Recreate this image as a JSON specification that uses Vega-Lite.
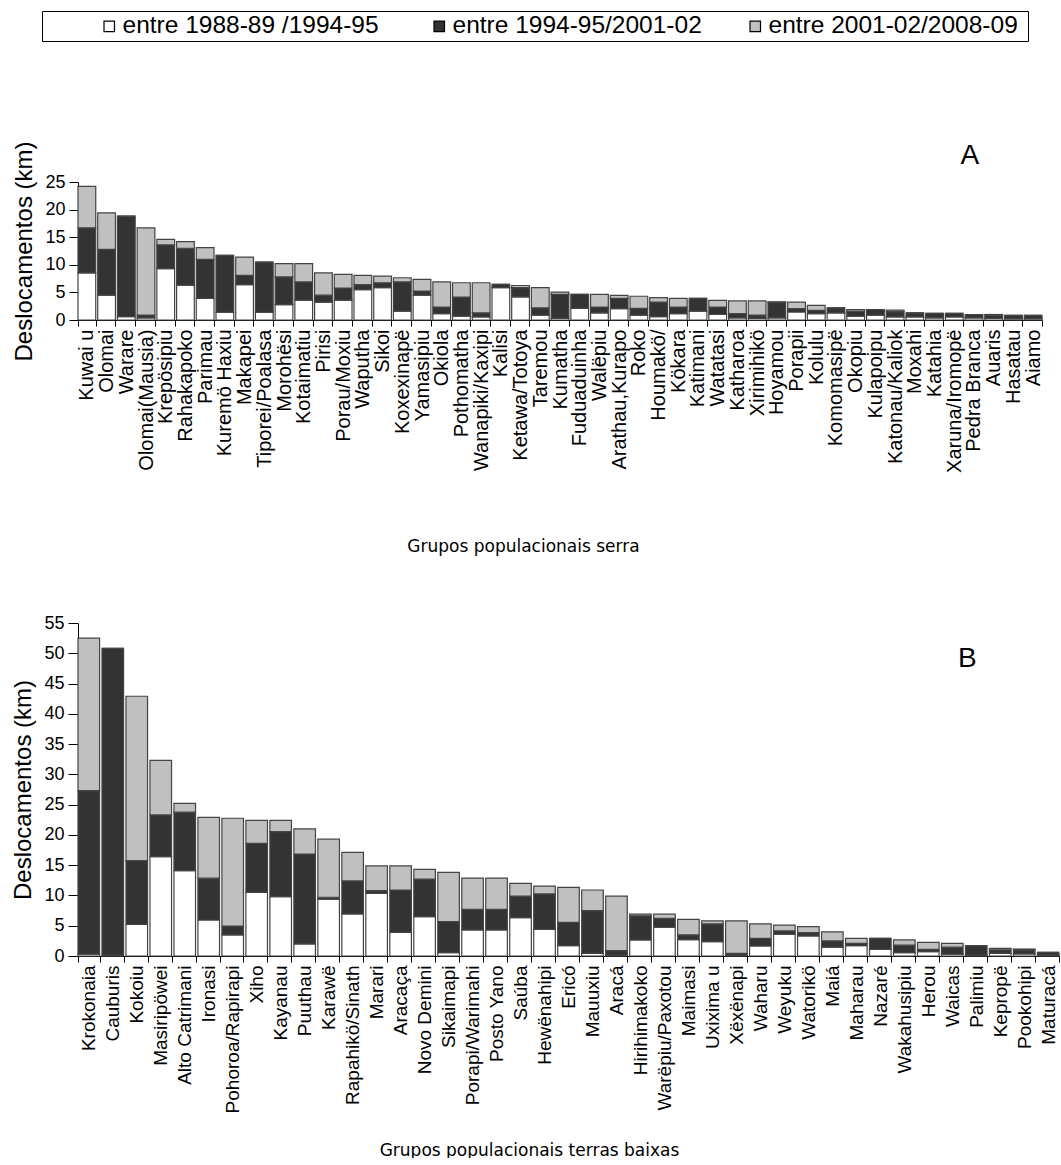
{
  "$schema": "https://vega.github.io/schema/vega-lite/v6.json",
  "padding": {"top": 10, "left": 11, "right": 0, "bottom": 0},
  "background": "white",
  "config": {
    "view": {"stroke": null},
    "font": "Liberation Sans",
    "axis": {"domainColor": "black", "tickColor": "black", "labelColor": "black", "titleColor": "black", "grid": false, "labelFont": "Liberation Sans", "titleFont": "Liberation Sans", "titleFontWeight": "normal"},
    "bar": {"stroke": "#444444", "strokeWidth": 1.2}
  },
  "resolve": {"scale": {"x": "independent", "y": "independent", "color": "shared"}, "legend": {"color": "shared"}},
  "spacing": 60,
  "datasets": {
    "serra": [
      {"n": "Kuwai u", "o": 1, "v1": 8.55, "v2": 8.15, "v3": 7.5},
      {"n": "Olomai", "o": 2, "v1": 4.5, "v2": 8.3, "v3": 6.6},
      {"n": "Warare", "o": 3, "v1": 0.6, "v2": 18.2, "v3": 0},
      {"n": "Olomai(Mausia)", "o": 4, "v1": 0.4, "v2": 0.5, "v3": 15.8},
      {"n": "Krepösipiu", "o": 5, "v1": 9.3, "v2": 4.3, "v3": 1.0},
      {"n": "Rahakapoko", "o": 6, "v1": 6.3, "v2": 6.7, "v3": 1.2},
      {"n": "Parimau", "o": 7, "v1": 3.9, "v2": 7.1, "v3": 2.1},
      {"n": "Kuremö Haxiu", "o": 8, "v1": 1.4, "v2": 10.3, "v3": 0},
      {"n": "Makapei", "o": 9, "v1": 6.4, "v2": 1.7, "v3": 3.3},
      {"n": "Tiporei/Poalasa", "o": 10, "v1": 1.4, "v2": 9.1, "v3": 0},
      {"n": "Morohësi", "o": 11, "v1": 2.8, "v2": 5.0, "v3": 2.4},
      {"n": "Kotaimatiu", "o": 12, "v1": 3.6, "v2": 3.3, "v3": 3.3},
      {"n": "Pirisi", "o": 13, "v1": 3.25, "v2": 1.25, "v3": 4.05},
      {"n": "Porau/Moxiu", "o": 14, "v1": 3.6, "v2": 2.2, "v3": 2.45},
      {"n": "Waputha", "o": 15, "v1": 5.5, "v2": 0.9, "v3": 1.7},
      {"n": "Sikoi", "o": 16, "v1": 5.85, "v2": 0.9, "v3": 1.2},
      {"n": "Koxexinapë", "o": 17, "v1": 1.6, "v2": 5.3, "v3": 0.75},
      {"n": "Yamasipiu", "o": 18, "v1": 4.5, "v2": 0.75, "v3": 2.1},
      {"n": "Okiola", "o": 19, "v1": 1.15, "v2": 1.2, "v3": 4.55},
      {"n": "Pothomatha", "o": 20, "v1": 0.7, "v2": 3.45, "v3": 2.6},
      {"n": "Wanapiki/Kaxipi", "o": 21, "v1": 0.55, "v2": 0.75, "v3": 5.45},
      {"n": "Kalisi", "o": 22, "v1": 5.85, "v2": 0.6, "v3": 0},
      {"n": "Ketawa/Totoya", "o": 23, "v1": 4.2, "v2": 1.65, "v3": 0.4},
      {"n": "Taremou", "o": 24, "v1": 0.9, "v2": 1.3, "v3": 3.65},
      {"n": "Kumatha", "o": 25, "v1": 0.3, "v2": 4.35, "v3": 0.4},
      {"n": "Fuduaduinha", "o": 26, "v1": 2.1, "v2": 2.55, "v3": 0},
      {"n": "Walëpiu", "o": 27, "v1": 1.3, "v2": 1.05, "v3": 2.3},
      {"n": "Arathau,Kurapo", "o": 28, "v1": 2.05, "v2": 1.85, "v3": 0.55},
      {"n": "Roko", "o": 29, "v1": 0.9, "v2": 1.2, "v3": 2.2},
      {"n": "Houmakö/", "o": 30, "v1": 0.6, "v2": 2.65, "v3": 0.8},
      {"n": "Kökara", "o": 31, "v1": 1.15, "v2": 1.2, "v3": 1.55},
      {"n": "Katimani", "o": 32, "v1": 1.6, "v2": 2.3, "v3": 0},
      {"n": "Watatasi", "o": 33, "v1": 1.0, "v2": 1.35, "v3": 1.2},
      {"n": "Katharoa", "o": 34, "v1": 0.4, "v2": 0.75, "v3": 2.3},
      {"n": "Xirimihikö", "o": 35, "v1": 0.3, "v2": 0.6, "v3": 2.55},
      {"n": "Hoyamou", "o": 36, "v1": 0.4, "v2": 2.8, "v3": 0.1},
      {"n": "Porapii", "o": 37, "v1": 1.45, "v2": 0.6, "v3": 1.2},
      {"n": "Kolulu", "o": 38, "v1": 1.15, "v2": 0.6, "v3": 0.9},
      {"n": "Komomasipë", "o": 39, "v1": 1.3, "v2": 0.9, "v3": 0},
      {"n": "Okopiu", "o": 40, "v1": 0.7, "v2": 0.9, "v3": 0.3},
      {"n": "Kulapoipu", "o": 41, "v1": 0.9, "v2": 1.0, "v3": 0},
      {"n": "Katonau/Kaliok", "o": 42, "v1": 0.55, "v2": 0.95, "v3": 0.3},
      {"n": "Moxahi", "o": 43, "v1": 0.55, "v2": 0.75, "v3": 0},
      {"n": "Katahia", "o": 44, "v1": 0.4, "v2": 0.8, "v3": 0},
      {"n": "Xaruna/Iromopë", "o": 45, "v1": 0.55, "v2": 0.65, "v3": 0},
      {"n": "Pedra Branca", "o": 46, "v1": 0.4, "v2": 0.6, "v3": 0},
      {"n": "Auaris", "o": 47, "v1": 0.3, "v2": 0.55, "v3": 0.15},
      {"n": "Hasatau", "o": 48, "v1": 0.25, "v2": 0.6, "v3": 0},
      {"n": "Aiamo", "o": 49, "v1": 0.25, "v2": 0.6, "v3": 0}
    ],
    "baixas": [
      {"n": "Krokonaia", "o": 1, "v1": 0.3, "v2": 27.0, "v3": 25.2},
      {"n": "Cauburis", "o": 2, "v1": 0.15, "v2": 50.65, "v3": 0},
      {"n": "Kokoiu", "o": 3, "v1": 5.2, "v2": 10.55, "v3": 27.15},
      {"n": "Masiripöwei", "o": 4, "v1": 16.4, "v2": 6.9, "v3": 9.0},
      {"n": "Alto Catrimani", "o": 5, "v1": 14.1, "v2": 9.65, "v3": 1.45},
      {"n": "Ironasi", "o": 6, "v1": 5.95, "v2": 6.9, "v3": 10.05},
      {"n": "Pohoroa/Rapirapi", "o": 7, "v1": 3.5, "v2": 1.45, "v3": 17.8},
      {"n": "Xiho", "o": 8, "v1": 10.5, "v2": 8.1, "v3": 3.8},
      {"n": "Kayanau", "o": 9, "v1": 9.8, "v2": 10.75, "v3": 1.85},
      {"n": "Puuthau", "o": 10, "v1": 2.0, "v2": 14.85, "v3": 4.15},
      {"n": "Karawë", "o": 11, "v1": 9.4, "v2": 0.3, "v3": 9.6},
      {"n": "Rapahikö/Sinath", "o": 12, "v1": 6.95, "v2": 5.45, "v3": 4.7},
      {"n": "Marari", "o": 13, "v1": 10.35, "v2": 0.45, "v3": 4.1},
      {"n": "Aracaça", "o": 14, "v1": 3.9, "v2": 7.0, "v3": 4.0},
      {"n": "Novo Demini", "o": 15, "v1": 6.5, "v2": 6.2, "v3": 1.6},
      {"n": "Sikaimapi", "o": 16, "v1": 0.55, "v2": 5.15, "v3": 8.1},
      {"n": "Porapi/Warimahi", "o": 17, "v1": 4.3, "v2": 3.4, "v3": 5.15},
      {"n": "Posto Yano", "o": 18, "v1": 4.3, "v2": 3.4, "v3": 5.15},
      {"n": "Saúba", "o": 19, "v1": 6.35, "v2": 3.55, "v3": 2.1},
      {"n": "Hewënahipi", "o": 20, "v1": 4.4, "v2": 5.85, "v3": 1.3},
      {"n": "Ericó", "o": 21, "v1": 1.7, "v2": 3.85, "v3": 5.8},
      {"n": "Mauuxiu", "o": 22, "v1": 0.45, "v2": 7.05, "v3": 3.4},
      {"n": "Aracá", "o": 23, "v1": 0.15, "v2": 0.75, "v3": 9.0},
      {"n": "Hirihimakoko", "o": 24, "v1": 2.65, "v2": 4.0, "v3": 0.25},
      {"n": "Warëpiu/Paxotou", "o": 25, "v1": 4.75, "v2": 1.45, "v3": 0.7},
      {"n": "Maimasi", "o": 26, "v1": 2.7, "v2": 0.8, "v3": 2.55},
      {"n": "Uxixima u", "o": 27, "v1": 2.35, "v2": 2.95, "v3": 0.5},
      {"n": "Xëxënapi", "o": 28, "v1": 0.15, "v2": 0.3, "v3": 5.35},
      {"n": "Waharu", "o": 29, "v1": 1.65, "v2": 1.25, "v3": 2.4},
      {"n": "Weyuku", "o": 30, "v1": 3.6, "v2": 0.55, "v3": 0.95},
      {"n": "Watorikö", "o": 31, "v1": 3.3, "v2": 0.55, "v3": 1.0},
      {"n": "Maiá", "o": 32, "v1": 1.45, "v2": 1.05, "v3": 1.5},
      {"n": "Maharau", "o": 33, "v1": 1.7, "v2": 0.4, "v3": 0.8},
      {"n": "Nazaré", "o": 34, "v1": 1.1, "v2": 1.8, "v3": 0},
      {"n": "Wakahusipiu", "o": 35, "v1": 0.55, "v2": 1.25, "v3": 0.85},
      {"n": "Herou", "o": 36, "v1": 0.7, "v2": 0.4, "v3": 1.15},
      {"n": "Waicas", "o": 37, "v1": 0.3, "v2": 1.15, "v3": 0.65},
      {"n": "Palimiu", "o": 38, "v1": 0.15, "v2": 1.55, "v3": 0},
      {"n": "Kepropë", "o": 39, "v1": 0.45, "v2": 0.55, "v3": 0.25},
      {"n": "Pookohipi", "o": 40, "v1": 0.35, "v2": 0.65, "v3": 0.15},
      {"n": "Maturacá", "o": 41, "v1": 0.15, "v2": 0.45, "v3": 0}
    ]
  },
  "vconcat": [
    {
      "width": 964,
      "height": 138,
      "title": {"text": "A", "anchor": "end", "fontSize": 28, "font": "Liberation Sans", "fontWeight": "normal", "color": "black", "dx": -64, "dy": 41, "offset": 12},
      "data": {"name": "serra"},
      "transform": [{"fold": ["v1", "v2", "v3"], "as": ["periodo", "km"]}],
      "mark": {"type": "bar"},
      "encoding": {
        "x": {
          "field": "n", "type": "nominal", "sort": {"field": "o", "op": "min"},
          "scale": {"paddingInner": 0.1, "paddingOuter": 0},
          "axis": {"title": "Grupos populacionais  serra", "titleFont": "DejaVu Sans", "titleFontSize": 17, "titleBaseline": "middle", "titleAlign": "center", "titleX": 445, "titleY": 226, "labelAngle": -90, "labelFontSize": 20, "labelPadding": 3, "tickSize": 6, "tickBand": "extent", "labelLimit": 300}
        },
        "y": {
          "field": "km", "type": "quantitative", "stack": "zero",
          "scale": {"domain": [0, 25], "nice": false},
          "axis": {"title": "Deslocamentos (km)", "titleFontSize": 24, "titlePadding": 8, "values": [0, 5, 10, 15, 20, 25], "labelFontSize": 18, "tickSize": 9, "labelPadding": 4}
        },
        "order": {"field": "periodo", "type": "nominal", "sort": "ascending"},
        "color": {
          "field": "periodo", "type": "nominal",
          "scale": {"domain": ["v1", "v2", "v3"], "range": ["#ffffff", "#333333", "#c0c0c0"]},
          "legend": {
            "orient": "none", "legendX": -36, "legendY": -171, "direction": "horizontal",
            "title": " ", "titleOrient": "left", "titleFontSize": 1, "titlePadding": 52,
            "labelExpr": "datum.value == 'v1' ? 'entre  1988-89 /1994-95' : datum.value == 'v2' ? 'entre 1994-95/2001-02' : 'entre  2001-02/2008-09'",
            "labelFont": "Liberation Sans", "labelFontSize": 24.5, "labelColor": "black", "labelOffset": 1, "labelLimit": 500,
            "symbolType": "square", "symbolSize": 110, "symbolStrokeColor": "black", "symbolStrokeWidth": 1,
            "columnPadding": 41, "strokeColor": "black", "padding": 3
          }
        }
      }
    },
    {
      "width": 981,
      "height": 333,
      "title": {"text": "B", "anchor": "end", "fontSize": 28, "font": "Liberation Sans", "fontWeight": "normal", "color": "black", "dx": -83, "dy": 59, "offset": 0},
      "data": {"name": "baixas"},
      "transform": [{"fold": ["v1", "v2", "v3"], "as": ["periodo", "km"]}],
      "mark": {"type": "bar"},
      "encoding": {
        "x": {
          "field": "n", "type": "nominal", "sort": {"field": "o", "op": "min"},
          "scale": {"paddingInner": 0.1, "paddingOuter": 0},
          "axis": {"title": "Grupos populacionais terras baixas", "titleFont": "DejaVu Sans", "titleFontSize": 17, "titleBaseline": "middle", "titleAlign": "center", "titleX": 451, "titleY": 194, "labelAngle": -90, "labelFontSize": 19, "labelPadding": 3, "tickSize": 6, "tickBand": "extent", "labelLimit": 300}
        },
        "y": {
          "field": "km", "type": "quantitative", "stack": "zero",
          "scale": {"domain": [0, 55], "nice": false},
          "axis": {"title": "Deslocamentos  (km)", "titleFontSize": 24, "titlePadding": 8, "values": [0, 5, 10, 15, 20, 25, 30, 35, 40, 45, 50, 55], "labelFontSize": 18, "tickSize": 10, "labelPadding": 4}
        },
        "order": {"field": "periodo", "type": "nominal", "sort": "ascending"},
        "color": {
          "field": "periodo", "type": "nominal",
          "scale": {"domain": ["v1", "v2", "v3"], "range": ["#ffffff", "#333333", "#c0c0c0"]}
        }
      }
    }
  ]
}
